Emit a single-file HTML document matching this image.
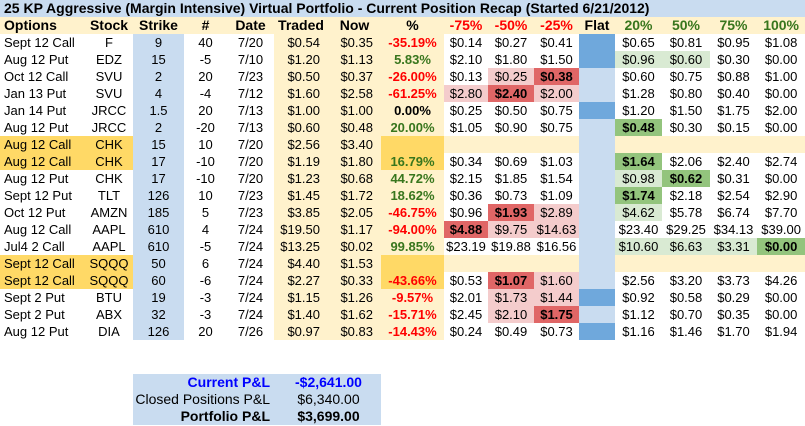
<!DOCTYPE html>
<html><head><meta charset="utf-8"><style>
body{margin:0;width:805px;height:426px;background:#fff;font-family:"Liberation Sans",Arial,sans-serif;font-size:13px;color:#000;position:relative;overflow:hidden}
table{border-collapse:collapse;table-layout:fixed;position:absolute;left:0;top:0;width:805px}
td{height:17px;padding:0;white-space:nowrap;overflow:hidden;text-align:center;line-height:17px}
.title td{background:#c9dcf0;font-weight:bold;font-size:14px;text-align:left;padding-left:4px}
.hdr td{background:#fff2cc;font-weight:bold;font-size:14px}
.red{color:#ff0000}.grn{color:#38761d}
.cream{background:#fff2cc}.org{background:#ffd966}.blue{background:#c9dcf0}.dblue{background:#6fa8dc}
.lr{background:#f4cccc}.dr{background:#e06666;font-weight:bold}.lg{background:#d9ead3}.dg{background:#93c47d;font-weight:bold}
.r{text-align:right;padding-right:8px}.l{text-align:left;padding-left:4px}
#sum{position:absolute;left:133px;top:374px;width:248px;background:#c9dcf0;font-size:14px}
#sum div{height:17px;line-height:17px;display:flex;white-space:nowrap}
#sum span:first-child{flex:0 0 137px;text-align:right;white-space:nowrap}
#sum span:last-child{flex:0 0 105px;text-align:center;padding-left:6px;white-space:nowrap}
</style></head><body>
<table>
<colgroup><col style="width:85px"><col style="width:48px"><col style="width:51px"><col style="width:43px"><col style="width:47px"><col style="width:54px"><col style="width:53px"><col style="width:63px"><col style="width:44px"><col style="width:46px"><col style="width:45px"><col style="width:36px"><col style="width:47px"><col style="width:48px"><col style="width:47px"><col style="width:48px"></colgroup>
<tbody id="tb">
<tr class="title"><td colspan="16">25 KP Aggressive (Margin Intensive) Virtual Portfolio - Current Position Recap (Started 6/21/2012)</td></tr>
<tr class="hdr"><td class="l">Options</td><td>Stock</td><td>Strike</td><td>#</td><td>Date</td><td>Traded</td><td>Now</td><td>%</td><td class="red">-75%</td><td class="red">-50%</td><td class="red">-25%</td><td>Flat</td><td class="grn">20%</td><td class="grn">50%</td><td class="grn">75%</td><td class="grn">100%</td></tr>
</tbody></table>
<div id="sum">
<div style="color:#0000ff;font-weight:bold"><span>Current P&amp;L</span><span>-$2,641.00</span></div>
<div><span>Closed Positions P&amp;L</span><span>$6,340.00</span></div>
<div style="font-weight:bold"><span>Portfolio P&amp;L</span><span>$3,699.00</span></div>
</div>
<script>
const options=["Sept 12 Call","Aug 12 Put","Oct 12 Call","Jan 13 Put","Jan 14 Put","Aug 12 Put","Aug 12 Call","Aug 12 Call","Aug 12 Put","Sept 12 Put","Oct 12 Put","Aug 12 Call","Jul4 2 Call","Sept 12 Call","Sept 12 Call","Sept 2 Put","Sept 2 Put","Aug 12 Put"];
const stocks=["F","EDZ","SVU","SVU","JRCC","JRCC","CHK","CHK","CHK","TLT","AMZN","AAPL","AAPL","SQQQ","SQQQ","BTU","ABX","DIA"];
const strikes=["9","15","2","4","1.5","2","15","17","17","126","185","610","610","50","60","19","32","126"];
const qty=["40","-5","20","-4","20","-20","10","-10","-10","10","5","4","-5","6","-6","-3","-3","20"];
const dates=["7/20","7/10","7/23","7/12","7/13","7/13","7/20","7/20","7/20","7/23","7/23","7/24","7/24","7/24","7/24","7/24","7/24","7/26"];
const traded=["$0.54","$1.20","$0.50","$1.60","$1.00","$0.60","$2.56","$1.19","$1.23","$1.45","$3.85","$19.50","$13.25","$4.40","$2.27","$1.15","$1.40","$0.97"];
const nowv=["$0.35","$1.13","$0.37","$2.58","$1.00","$0.48","$3.40","$1.80","$0.68","$1.72","$2.05","$1.17","$0.02","$1.53","$0.33","$1.26","$1.62","$0.83"];
const pct=["-35.19%","5.83%","-26.00%","-61.25%","0.00%","20.00%","","16.79%","44.72%","18.62%","-46.75%","-94.00%","99.85%","","-43.66%","-9.57%","-15.71%","-14.43%"];
const m75=["$0.14","$2.10","$0.13","$2.80","$0.25","$1.05","","$0.34","$2.15","$0.36","$0.96","$4.88","$23.19","","$0.53","$2.01","$2.45","$0.24"];
const m50=["$0.27","$1.80","$0.25","$2.40","$0.50","$0.90","","$0.69","$1.85","$0.73","$1.93","$9.75","$19.88","","$1.07","$1.73","$2.10","$0.49"];
const m25=["$0.41","$1.50","$0.38","$2.00","$0.75","$0.75","","$1.03","$1.54","$1.09","$2.89","$14.63","$16.56","","$1.60","$1.44","$1.75","$0.73"];
const p20=["$0.65","$0.96","$0.60","$1.28","$1.20","$0.48","","$1.64","$0.98","$1.74","$4.62","$23.40","$10.60","","$2.56","$0.92","$1.12","$1.16"];
const p50=["$0.81","$0.60","$0.75","$0.80","$1.50","$0.30","","$2.06","$0.62","$2.18","$5.78","$29.25","$6.63","","$3.20","$0.58","$0.70","$1.46"];
const p75=["$0.95","$0.30","$0.88","$0.40","$1.75","$0.15","","$2.40","$0.31","$2.54","$6.74","$34.13","$3.31","","$3.73","$0.29","$0.35","$1.70"];
const p100=["$1.08","$0.00","$1.00","$0.00","$2.00","$0.00","","$2.74","$0.00","$2.90","$7.70","$39.00","$0.00","","$4.26","$0.00","$0.00","$1.94"];
const hl=["--------","----ll--","-ld-----","ldl-----","--------","----d---","--------","----d---","----ld--","----d---","-dl-l---","dll-----","----llld","--------","-dl-----","-ll-----","-ld-----","--------"];
const flatDark=[1,1,0,0,1,0,0,0,0,0,0,0,0,0,0,1,0,1];
const pairRows=[6,7,13,14];
const tb=document.getElementById('tb');
for(let i=0;i<options.length;i++){
  const tr=document.createElement('tr');
  
  
  const pair=pairRows.includes(i), empty=m75[i]==="";
  const cells=[[options[i],'l'+(pair?' org':'')],[stocks[i],pair?'org':''],[strikes[i],'blue'],[qty[i],''],[dates[i],''],[traded[i],'cream r'],[nowv[i],'cream r']];
  let pc='cream';
  if(pair) pc='org';
  if(pct[i]){const v=parseFloat(pct[i]);pc+=' '+(v<0?'red':v>0?'grn':'')+'" style="font-weight:bold';}
  cells.push([pct[i],pc]);
  const sc=[m75,m50,m25,null,p20,p50,p75,p100];
  sc.forEach((arr,k)=>{
    if(arr===null){cells.push(['',flatDark[i]?'dblue':'blue']);return;}
    const h=hl[i][k];let c=empty?'cream':'';
    if(h==='l')c=k<3?'lr':'lg';
    if(h==='d')c=k<3?'dr':'dg';
    cells.push([arr[i],c]);
  });
  tr.innerHTML=cells.map(c=>'<td class="'+c[1]+'">'+c[0]+'</td>').join('');
  tb.appendChild(tr);
}
</script>
</body></html>
